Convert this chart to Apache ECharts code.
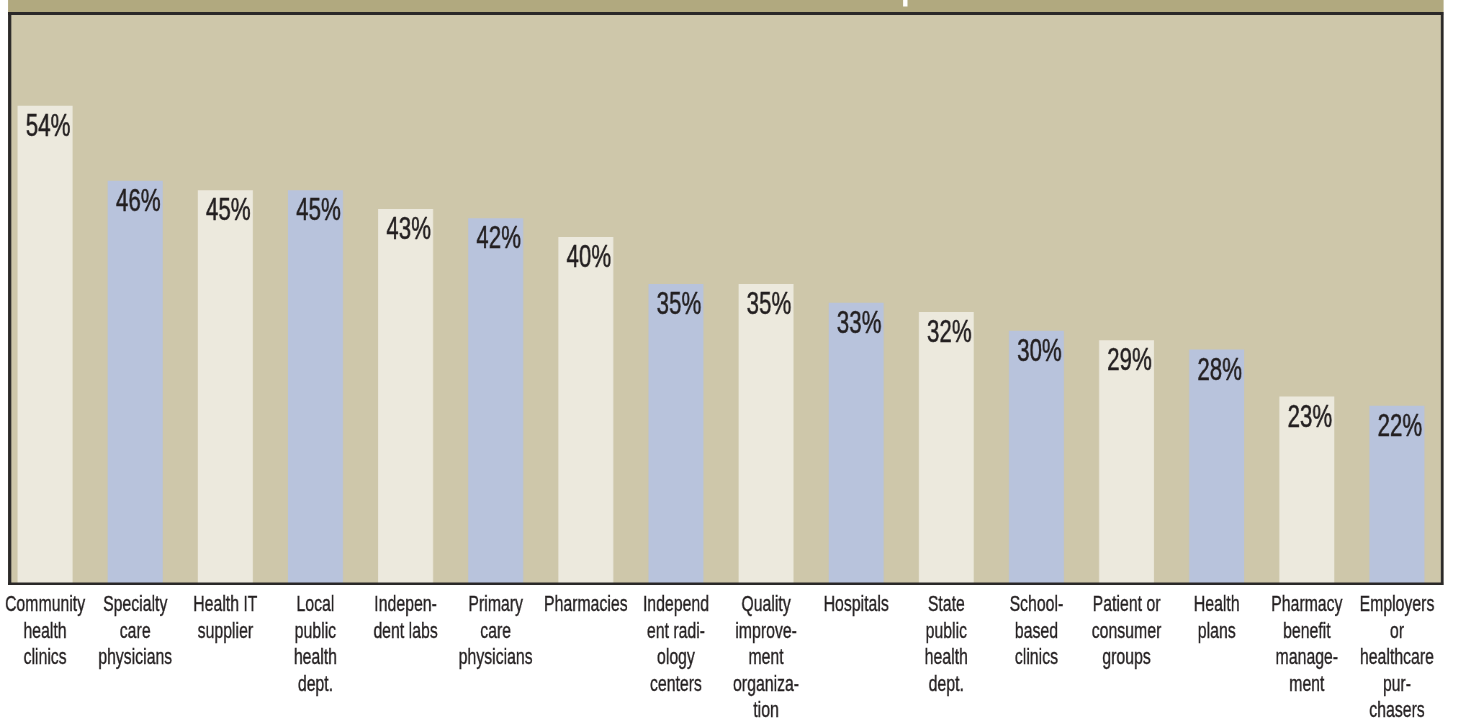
<!DOCTYPE html>
<html>
<head>
<meta charset="utf-8">
<script src="https://cdn.jsdelivr.net/npm/echarts@6/dist/echarts.min.js"></script>
<style>
html,body{margin:0;padding:0;background:#ffffff;overflow:hidden;width:1458px;height:719px;}
#chart{width:2025px;height:719px;transform:scaleX(0.72);transform-origin:0 0;}
</style>
</head>
<body>
<div id="chart"></div>
<script>
var categories = [
  "Community\nhealth\nclinics",
  "Specialty\ncare\nphysicians",
  "Health IT\nsupplier",
  "Local\npublic\nhealth\ndept.",
  "Indepen-\ndent labs",
  "Primary\ncare\nphysicians",
  "Pharmacies",
  "Independ\nent radi-\nology\ncenters",
  "Quality\nimprove-\nment\norganiza-\ntion",
  "Hospitals",
  "State\npublic\nhealth\ndept.",
  "School-\nbased\nclinics",
  "Patient or\nconsumer\ngroups",
  "Health\nplans",
  "Pharmacy\nbenefit\nmanage-\nment",
  "Employers\nor\nhealthcare\npur-\nchasers"
];
var values = [54, 46, 45, 45, 43, 42, 40, 35, 35, 33, 32, 30, 29, 28, 23, 22];
var barColors = ["#ece9dd", "#b8c3dc"];

// horizontal condensing factor applied via CSS to emulate a condensed typeface
var S = 0.72;
function px(x) { return x / S; }

var FONT = "'Liberation Sans', Arial, sans-serif";
var INK = '#231f20';
var BORDER = '#2a2828';

var chart = echarts.init(document.getElementById('chart'), null, {renderer: 'canvas', width: 2025, height: 719});

var seriesData = values.map(function (v, i) {
  return { value: v, itemStyle: { color: barColors[i % 2] } };
});

chart.setOption({
  animation: false,
  backgroundColor: '#ffffff',
  graphic: [
    { type: 'rect', z: -10, silent: true,
      shape: { x: px(8), y: 0, width: px(1435.5), height: 13 },
      style: { fill: '#b1a97f' } },
    { type: 'rect', z: -10, silent: true,
      shape: { x: px(8), y: 12, width: px(1435.5), height: 573 },
      style: { fill: '#cec7aa' } },
    { type: 'rect', z: 100, silent: true,
      shape: { x: px(8), y: 12, width: px(1435.5), height: 3 },
      style: { fill: BORDER } },
    { type: 'rect', z: 100, silent: true,
      shape: { x: px(8), y: 582.5, width: px(1435.5), height: 2.5 },
      style: { fill: BORDER } },
    { type: 'rect', z: 100, silent: true,
      shape: { x: px(8), y: 12, width: px(3.2), height: 573 },
      style: { fill: BORDER } },
    { type: 'rect', z: 100, silent: true,
      shape: { x: px(1440.8), y: 12, width: px(2.7), height: 573 },
      style: { fill: BORDER } },
    { type: 'rect', z: 100, silent: true,
      shape: { x: px(903), y: 0, width: px(4.5), height: 6.5 },
      style: { fill: '#ffffff' } }
  ],
  grid: { left: 0, right: px(16), top: 12, bottom: 135, containLabel: false, outerBoundsMode: 'none' },
  xAxis: {
    type: 'category',
    data: categories,
    axisLine: { show: false },
    axisTick: { show: false },
    axisLabel: {
      interval: 0,
      margin: 8,
      hideOverlap: false,
      fontFamily: FONT,
      fontSize: 22,
      lineHeight: 26.5,
      color: INK,
      textBorderColor: INK,
      textBorderWidth: 0.35,
      align: 'center'
    }
  },
  yAxis: {
    type: 'value',
    min: 3,
    max: 64,
    show: false,
    splitLine: { show: false }
  },
  series: [{
    type: 'bar',
    data: seriesData,
    barWidth: px(55),
    clip: true,
    label: {
      show: true,
      position: 'insideTop',
      distance: 6,
      offset: [px(3), 0],
      formatter: '{c}%',
      fontFamily: FONT,
      fontSize: 31,
      color: INK,
      textBorderColor: INK,
      textBorderWidth: 0.5
    }
  }]
});
</script>
</body>
</html>
